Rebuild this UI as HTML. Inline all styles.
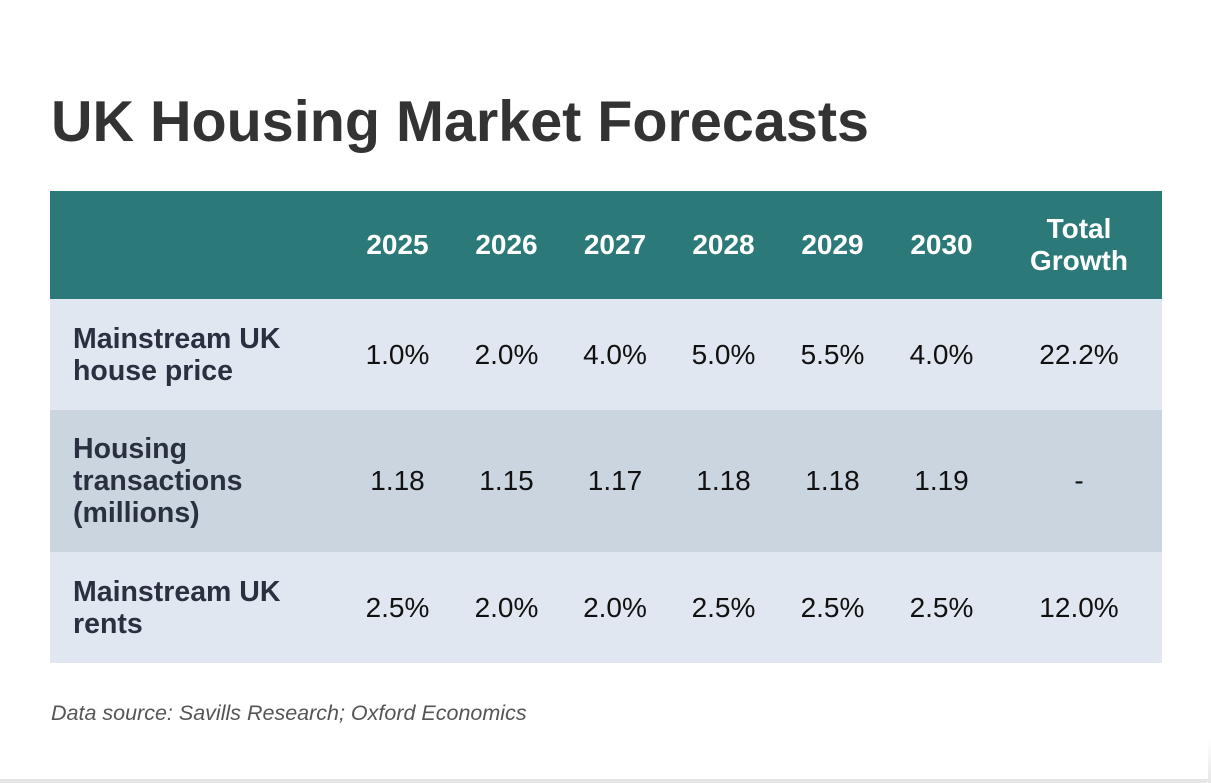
<!DOCTYPE html>
<html><head><meta charset="utf-8"><style>
html,body{margin:0;padding:0;background:#fff;}
body{width:1211px;height:783px;overflow:hidden;position:relative;font-family:"Liberation Sans",Arial,sans-serif;}
#bar{position:absolute;left:0;top:779px;width:1209px;height:4px;background:#e6e6e6;border-radius:0 0 4px 0;}
#edge{position:absolute;left:1208px;top:740px;width:3px;height:43px;background:linear-gradient(#fff,#e6e6e6);}
h1{position:absolute;left:51px;top:89px;margin:0;font-size:57.5px;font-weight:bold;color:#333;line-height:66px;}
table{position:absolute;left:50px;top:191px;width:1112px;border-collapse:collapse;table-layout:fixed;}
th{background:#2c7979;color:#fff;font-size:28px;font-weight:bold;height:108px;text-align:center;line-height:32px;padding:0;}
td{font-size:28px;color:#111;text-align:center;padding:0;line-height:32px;}
td.lab{text-align:left;padding-left:23px;font-weight:bold;color:#2b3040;font-size:28.5px;}
tr.r1 td{background:#e0e7f0;height:111px;}
tr.r2 td{background:#cbd5df;height:142px;}
tr.r3 td{background:#e0e7f0;height:111px;}
#src{position:absolute;left:51px;top:701px;font-size:21.5px;font-style:italic;color:#555;}
</style></head><body>
<div id="bar"></div>
<div id="edge"></div>
<h1>UK Housing Market Forecasts</h1>
<table>
<colgroup><col style="width:293px"><col style="width:109px"><col style="width:109px"><col style="width:108px"><col style="width:109px"><col style="width:109px"><col style="width:109px"><col style="width:166px"></colgroup>
<tr><th></th><th>2025</th><th>2026</th><th>2027</th><th>2028</th><th>2029</th><th>2030</th><th>Total<br>Growth</th></tr>
<tr class="r1"><td class="lab">Mainstream UK<br>house price</td><td>1.0%</td><td>2.0%</td><td>4.0%</td><td>5.0%</td><td>5.5%</td><td>4.0%</td><td>22.2%</td></tr>
<tr class="r2"><td class="lab">Housing<br>transactions<br>(millions)</td><td>1.18</td><td>1.15</td><td>1.17</td><td>1.18</td><td>1.18</td><td>1.19</td><td>-</td></tr>
<tr class="r3"><td class="lab">Mainstream UK<br>rents</td><td>2.5%</td><td>2.0%</td><td>2.0%</td><td>2.5%</td><td>2.5%</td><td>2.5%</td><td>12.0%</td></tr>
</table>
<div id="src">Data source: Savills Research; Oxford Economics</div>
</body></html>
